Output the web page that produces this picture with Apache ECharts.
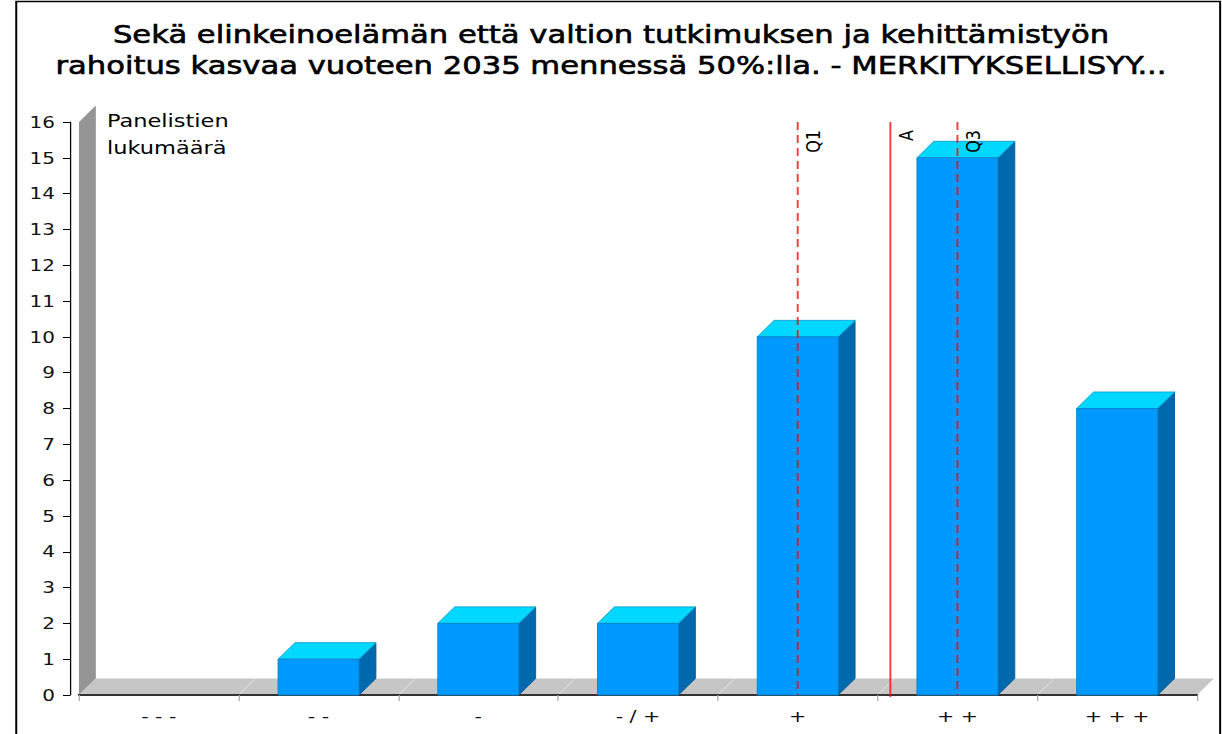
<!DOCTYPE html>
<html><head><meta charset="utf-8">
<script src="https://cdn.jsdelivr.net/npm/echarts@6/dist/echarts.min.js"></script>
<style>
html,body{margin:0;padding:0;background:#fff;overflow:hidden;width:1222px;height:734px;}
#wrap{width:1222px;height:734px;overflow:hidden;position:relative;}
#chart{width:978px;height:734px;transform:scaleX(1.2495);transform-origin:0 0;}
</style></head><body>
<div id="wrap"><div id="chart"></div></div>
<script>
// ---- data ----
const titleText = 'Sekä elinkeinoelämän että valtion tutkimuksen ja kehittämistyön\nrahoitus kasvaa vuoteen 2035 mennessä 50%:lla. - MERKITYKSELLISYY...';
const yAxisName = 'Panelistien\nlukumäärä';
const categories = ['- - -', '- -', '-', '- / +', '+', '+ +', '+ + +'];
const counts = [0, 1, 2, 2, 10, 15, 8];
const markerNames = ['Q1', 'A', 'Q3'];
const markerPositions = [4, 4.58, 5];
const markerDashed = [true, false, true];
const yMin = 0, yMax = 16, yInterval = 1;

// ---- style constants ----
const DX = 13.5, DY = 16.5;
const FONT = 'DejaVu Sans';

const chart = echarts.init(document.getElementById('chart'), null, {renderer: 'svg'});

function renderBackdrop(params, api) {
  const cs = params.coordSys;
  const L = cs.x, R = cs.x + cs.width, T = cs.y, B = cs.y + cs.height;
  const n = categories.length, step = cs.width / n;
  const children = [
    {type: 'polygon', shape: {points: [[L, B], [L, T], [L + DX, T - DY], [L + DX, B - DY]]}, style: {fill: '#959595'}},
    {type: 'polygon', shape: {points: [[L, B], [R, B], [R + DX, B - DY], [L + DX, B - DY]]}, style: {fill: '#c6c6c6'}}
  ];
  for (let k = 1; k < n; k++) {
    children.push({type: 'line', shape: {x1: L + k * step, y1: B, x2: L + k * step + DX, y2: B - DY}, style: {stroke: '#dcdcdc', lineWidth: 1}});
  }
  return {type: 'group', children};
}

function renderBar(params, api) {
  const idx = api.value(0), v = api.value(1);
  if (!v) return null;
  const base = api.coord([idx, 0]);
  const top = api.coord([idx, v]);
  const w = api.size([1, 0])[0] * 0.507;
  const xl = base[0] - w / 2, xr = base[0] + w / 2, yb = base[1], yt = top[1];
  return {type: 'group', children: [
    {type: 'polygon', shape: {points: [[xr, yb], [xr, yt], [xr + DX, yt - DY], [xr + DX, yb - DY]]}, style: {fill: '#0069ad', stroke: '#005d99', lineWidth: 0.8}},
    {type: 'polygon', shape: {points: [[xl, yt], [xr, yt], [xr + DX, yt - DY], [xl + DX, yt - DY]]}, style: {fill: '#00d8ff', stroke: '#0a9fd2', lineWidth: 0.8}},
    {type: 'rect', shape: {x: xl, y: yt, width: w, height: yb - yt}, style: {fill: '#0099ff', stroke: '#0a82cc', lineWidth: 0.8}}
  ]};
}

function renderMarker(params, api) {
  const i = params.dataIndex;
  const pos = api.value(0);
  const top = api.coord([pos, yMax]), bot = api.coord([pos, yMin]);
  const dashed = markerDashed[i];
  return {type: 'group', children: [
    {type: 'line', shape: {x1: top[0], y1: top[1], x2: bot[0], y2: bot[1] + (dashed ? 0 : 2)},
     style: {stroke: 'rgba(255,0,0,0.78)', lineWidth: 1.5, lineDash: dashed ? [8, 5] : null}},
    {type: 'text', x: top[0] + 4, y: top[1] + 8, rotation: Math.PI / 2,
     style: {text: markerNames[i], align: 'right', verticalAlign: 'top', fontSize: 16, fontFamily: FONT, fill: '#000'}}
  ]};
}

chart.setOption({
  animation: false,
  backgroundColor: '#fff',
  title: {
    text: titleText, left: 'center', top: 14,
    textStyle: {fontFamily: FONT, fontSize: 24.5, fontWeight: 'normal', color: '#000', lineHeight: 31,
                textBorderColor: '#000', textBorderWidth: 0.6}
  },
  graphic: [{type: 'rect', shape: {x: 13, y: 1.5, width: 963.5, height: 800}, style: {fill: 'none', stroke: '#000', lineWidth: 1.6}, z: 100}],
  grid: {left: 63.2, right: 20, top: 122, bottom: 39, containLabel: false},
  xAxis: [
    {type: 'category', data: categories, boundaryGap: true, z: 1.5,
     axisLine: {show: true, lineStyle: {color: '#333', width: 2}},
     axisTick: {show: true, length: 6, lineStyle: {color: '#aaa'}},
     axisLabel: {margin: 13, color: '#111', fontSize: 16.5, fontFamily: FONT},
     splitLine: {show: false}},
    {type: 'value', min: -0.5, max: 6.5, show: false}
  ],
  yAxis: {
    type: 'value', min: yMin, max: yMax, interval: yInterval, offset: 7.2,
    axisLine: {show: true, onZero: false, lineStyle: {color: '#000', width: 1}},
    axisTick: {show: true, length: 5.6, lineStyle: {color: '#000'}},
    axisLabel: {margin: 12, color: '#111', fontSize: 16, fontFamily: FONT},
    splitLine: {show: false},
    name: yAxisName, nameLocation: 'end', nameGap: 15,
    nameTextStyle: {align: 'left', verticalAlign: 'top', padding: [0, 0, 0, 29.6], fontSize: 18, lineHeight: 27, fontFamily: FONT, color: '#000'}
  },
  series: [
    {type: 'custom', name: 'backdrop', xAxisIndex: 0, yAxisIndex: 0, z: 1, silent: true,
     renderItem: renderBackdrop, data: [[0, 0]]},
    {type: 'custom', name: 'Panelistien lukumäärä', xAxisIndex: 0, yAxisIndex: 0, z: 2,
     renderItem: renderBar, encode: {x: 0, y: 1}, data: counts.map((c, i) => [i, c])},
    {type: 'custom', name: 'markers', xAxisIndex: 1, yAxisIndex: 0, z: 3,
     renderItem: renderMarker, encode: {x: 0}, data: markerPositions.map(p => [p])}
  ]
});
</script>
</body></html>
